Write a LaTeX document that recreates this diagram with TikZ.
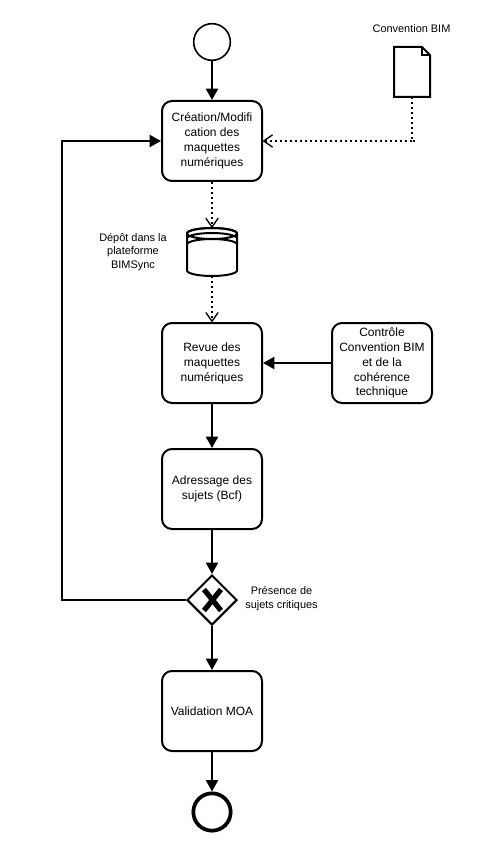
\documentclass[tikz,border=0pt]{standalone}
\usepackage{fontspec}
\setmainfont{Liberation Sans}
\usetikzlibrary{arrows.meta,shapes.geometric}
\tikzset{
  x=0.75pt,y=-0.75pt,
  edge/.style={line width=1.5pt,-{Triangle[length=8.5pt,width=9pt]}},
  plainedge/.style={line width=1.5pt},
  dotedge/.style={line width=1.5pt,dash pattern=on 1.5pt off 2.25pt,-{Straight Barb[length=6.5pt,width=9pt,line width=1pt,round]}},
  dotplain/.style={line width=1.5pt,dash pattern=on 1.5pt off 2.25pt},
  taskbox/.style={draw,line width=1.5pt,rounded corners=7.5pt,minimum width=75pt,minimum height=60pt,inner sep=0pt,align=center,font=\fontsize{9}{11.2}\selectfont},
  lab/.style={align=center,inner sep=0pt,font=\fontsize{8.2}{10.4}\selectfont},
  shapebox/.style={inner sep=0pt,minimum width=#1}
}
\begin{document}
\begin{tikzpicture}
\useasboundingbox (0,0) rectangle (476,852);
\fill[white] (0,0) rectangle (476,852);
\node[draw,circle,line width=1.2pt,minimum size=27.5pt,inner sep=0pt] (start) at (212,42) {};
\node[taskbox] (t1) at (212,141) {Création/Modifi\\cation des\\maquettes\\numériques};
\node[taskbox] (t2) at (212,363) {Revue des\\maquettes\\numériques};
\node[taskbox] (ctrl) at (382,363) {Contrôle\\Convention BIM\\et de la\\cohérence\\technique};
\node[taskbox] (t3) at (212,489) {Adressage des\\sujets (Bcf)};
\node[taskbox] (t4) at (212,711) {Validation MOA};
\node[draw,diamond,aspect=1,line width=1.5pt,minimum size=37.5pt,inner sep=0pt] (gw) at (212,600) {};
\node[draw,circle,line width=2.8pt,minimum size=28pt,inner sep=0pt] (end) at (212,812) {};
% document
\node[inner sep=0pt,minimum width=27pt,minimum height=37.5pt] (doc) at (412,72) {};
\draw[line width=1.5pt,line join=miter] (394,47) -- (422,47) -- (430,55) -- (430,97) -- (394,97) -- cycle;
\draw[line width=1.1pt] (422,47) -- (422,55) -- (430,55);
% datastore
\node[inner sep=0pt,minimum width=37.5pt,minimum height=36pt] (db) at (212,252) {};
\draw[line width=1.5pt,line join=round] (187,233.5) arc[x radius=25,y radius=5.5,start angle=180,end angle=360] -- (237,270.5) arc[x radius=25,y radius=5.5,start angle=0,end angle=180] -- cycle;
\draw[line width=1.5pt] (212,233.5) ellipse[x radius=25,y radius=5.5];
\draw[line width=1.5pt] (187,238.5) arc[x radius=25,y radius=5.5,start angle=180,end angle=360];
\draw[line width=1.5pt] (187,244.5) arc[x radius=25,y radius=5.5,start angle=180,end angle=360];
% X
\draw[line width=3.9pt] (204,589.5) -- (221,610.5) (221,589.5) -- (204,610.5);
% labels
\node[lab] (lconv) at (411.5,29) {Convention BIM};
\node[lab] (ldep) at (133,252) {Dépôt dans la\\plateforme\\BIMSync};
\node[lab] (lpres) at (281.5,599) {Présence de\\sujets critiques};
% connectors
\draw[edge] (start) -- (t1);
\draw[dotplain] (doc.south) |- (415,141);
\draw[dotedge] (412,141) -- (t1.east);
\draw[dotedge] (t1) -- (db);
\draw[dotedge] (db) -- (t2);
\draw[edge] (ctrl) -- (t2);
\draw[edge] (t2) -- (t3);
\draw[edge] (t3) -- (gw);
\draw[edge] (gw) -- (t4);
\draw[edge] (t4) -- (end);
\draw[edge] (gw.west) -| (62,141) -- (t1.west);
\end{tikzpicture}
\end{document}
